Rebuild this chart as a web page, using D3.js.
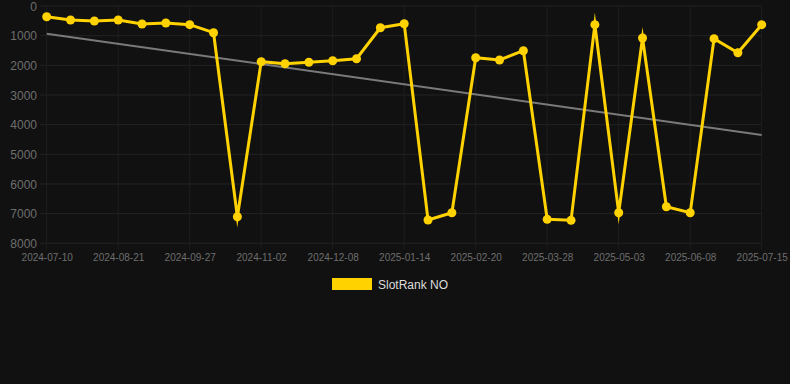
<!DOCTYPE html>
<html><head><meta charset="utf-8">
<script src="https://cdn.jsdelivr.net/npm/d3@7"></script>
<style>
html,body{margin:0;padding:0;background:#111111;}
svg{display:block;font-family:"Liberation Sans",Arial,Helvetica,sans-serif;}
</style></head>
<body>
<svg id="c" width="790" height="384"></svg>
<script>
const dates = ["2024-07-10","2024-07-24","2024-08-07","2024-08-21","2024-09-02","2024-09-14","2024-09-27","2024-10-09","2024-10-21","2024-11-02","2024-11-14","2024-11-26","2024-12-08","2024-12-20","2025-01-02","2025-01-14","2025-01-26","2025-02-08","2025-02-20","2025-03-04","2025-03-16","2025-03-28","2025-04-09","2025-04-21","2025-05-03","2025-05-15","2025-05-27","2025-06-08","2025-06-20","2025-07-02","2025-07-15"];
const rankValues = [361,472,506,472,607,573,630,900,7104,1878,1945,1898,1844,1777,732,597,7215,6969,1743,1821,1507,7192,7225,630,6969,1079,6767,6969,1102,1575,630];
const trendValues = [934,4349];
const yTicks = [0,1000,2000,3000,4000,5000,6000,7000,8000];
const xTickLabels = ["2024-07-10","2024-08-21","2024-09-27","2024-11-02","2024-12-08","2025-01-14","2025-02-20","2025-03-28","2025-05-03","2025-06-08","2025-07-15"];
const seriesName = "SlotRank NO";

const svg = d3.select("#c");
const pLeft = 46.7, pRight = 761.7, pTop = 6, pBottom = 243.3;
const x = d3.scalePoint().domain(dates).range([pLeft, pRight]);
const y = d3.scaleLinear().domain([0, 8000]).range([pTop, pBottom]);

// grid
const g = svg.append("g");
g.selectAll("line.h").data(yTicks).join("line")
  .attr("x1", 40).attr("x2", pRight).attr("y1", d => y(d)).attr("y2", d => y(d))
  .attr("stroke", "#232323").attr("stroke-width", 1);
g.selectAll("line.v").data(xTickLabels).join("line")
  .attr("x1", d => x(d)).attr("x2", d => x(d)).attr("y1", pTop).attr("y2", pBottom + 6)
  .attr("stroke", "#1e1e1e").attr("stroke-width", 1);

// y axis
const yAxis = d3.axisLeft(y).tickValues(yTicks).tickFormat(d3.format("d")).tickSize(0).tickPadding(0);
const ya = svg.append("g").attr("transform", "translate(37,0)").call(yAxis);
ya.select(".domain").remove();
ya.selectAll("text").attr("fill", "#6e6e6e").style("font-size", "12px").attr("dy", "0.35em");

// x axis
const xAxis = d3.axisBottom(x).tickValues(xTickLabels).tickSize(0).tickPadding(0);
const xa = svg.append("g").attr("transform", `translate(0,${pBottom + 11})`).call(xAxis);
xa.select(".domain").remove();
xa.selectAll("text").attr("fill", "#6e6e6e").style("font-size", "10px").attr("dy", "0.71em");

// trend line
const xt = d3.scaleLinear().domain([0, 1]).range([pLeft, pRight]);
svg.append("line")
  .attr("x1", xt(0)).attr("x2", xt(1))
  .attr("y1", y(trendValues[0])).attr("y2", y(trendValues[1]))
  .attr("stroke", "#7a7a7a").attr("stroke-width", 2);

// series
const color = "#ffd200";
const line = d3.line().x((d, i) => x(dates[i])).y(d => y(d));
svg.append("path").datum(rankValues)
  .attr("d", line).attr("fill", "none").attr("stroke", color)
  .attr("stroke-width", 3).attr("stroke-linejoin", "miter").attr("stroke-miterlimit", 10);
svg.selectAll("circle.pt").data(rankValues).join("circle")
  .attr("cx", (d, i) => x(dates[i])).attr("cy", d => y(d)).attr("r", 4.5).attr("fill", color);

// legend
svg.append("rect").attr("x", 332).attr("y", 278).attr("width", 40).attr("height", 12).attr("fill", color);
svg.append("text").attr("x", 378).attr("y", 289).text(seriesName)
  .attr("fill", "#dddddd").style("font-size", "12px");
</script>
</body></html>
